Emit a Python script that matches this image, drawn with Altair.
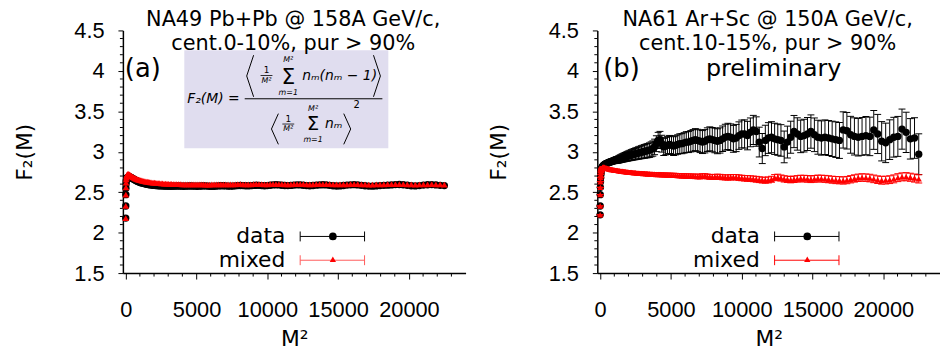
import altair as alt
import pandas as pd

# ---------------- data ----------------
M2 = [1, 4, 9, 16, 25, 36, 49, 64, 81, 100,
      121, 144, 169, 196, 225, 256, 289, 324, 361, 400,
      441, 484, 529, 576, 625, 676, 729, 784, 841, 900,
      961, 1024, 1089, 1156, 1225, 1296, 1369, 1444, 1521, 1600,
      1681, 1764, 1849, 1936, 2025, 2116, 2209, 2304, 2401, 2500,
      2601, 2704, 2809, 2916, 3025, 3136, 3249, 3364, 3481, 3600,
      3721, 3844, 3969, 4096, 4225, 4356, 4489, 4624, 4761, 4900,
      5041, 5184, 5329, 5476, 5625, 5776, 5929, 6084, 6241, 6400,
      6561, 6724, 6889, 7056, 7225, 7396, 7569, 7744, 7921, 8100,
      8281, 8464, 8649, 8836, 9025, 9216, 9409, 9604, 9801, 10000,
      10201, 10404, 10609, 10816, 11025, 11236, 11449, 11664, 11881, 12100,
      12321, 12544, 12769, 12996, 13225, 13456, 13689, 13924, 14161, 14400,
      14641, 14884, 15129, 15376, 15625, 15876, 16129, 16384, 16641, 16900,
      17161, 17424, 17689, 17956, 18225, 18496, 18769, 19044, 19321, 19600,
      19881, 20164, 20449, 20736, 21025, 21316, 21609, 21904, 22201, 22500]

A_DATA = [2.18, 2.33, 2.47, 2.55, 2.60, 2.63, 2.65, 2.66, 2.67, 2.675,
          2.68, 2.685, 2.69, 2.69, 2.69, 2.69, 2.69, 2.685, 2.68, 2.68,
          2.675, 2.67, 2.665, 2.66, 2.655, 2.65, 2.645, 2.64, 2.635, 2.63,
          2.625, 2.62, 2.618, 2.615, 2.61, 2.607, 2.604, 2.60, 2.598, 2.595,
          2.593, 2.59, 2.588, 2.586, 2.585, 2.583, 2.582, 2.58, 2.58, 2.579,
          2.578, 2.577, 2.576, 2.576, 2.575, 2.575, 2.575, 2.575, 2.576, 2.576,
          2.577, 2.576, 2.575, 2.574, 2.575, 2.576, 2.577, 2.577, 2.576, 2.575,
          2.574, 2.575, 2.577, 2.578, 2.578, 2.576, 2.574, 2.573, 2.574, 2.576,
          2.578, 2.58, 2.58, 2.578, 2.576, 2.575, 2.576, 2.579, 2.582, 2.583,
          2.582, 2.58, 2.579, 2.581, 2.584, 2.586, 2.585, 2.582, 2.58, 2.582,
          2.586, 2.59, 2.592, 2.59, 2.586, 2.583, 2.582, 2.584, 2.588, 2.591,
          2.59, 2.586, 2.582, 2.58, 2.583, 2.587, 2.59, 2.592, 2.59, 2.585,
          2.58, 2.577, 2.578, 2.583, 2.588, 2.591, 2.593, 2.59, 2.585, 2.58,
          2.576, 2.575, 2.578, 2.582, 2.585, 2.587, 2.59, 2.594, 2.595, 2.592,
          2.586, 2.58, 2.578, 2.582, 2.588, 2.592, 2.594, 2.59, 2.585, 2.582]

A_MIXED = [2.18, 2.33, 2.47, 2.56, 2.62, 2.66, 2.68, 2.70, 2.71, 2.715,
           2.72, 2.725, 2.725, 2.725, 2.72, 2.72, 2.715, 2.71, 2.705, 2.70,
           2.695, 2.69, 2.685, 2.68, 2.676, 2.672, 2.668, 2.664, 2.66, 2.656,
           2.652, 2.649, 2.646, 2.643, 2.64, 2.637, 2.634, 2.632, 2.63, 2.627,
           2.625, 2.623, 2.621, 2.619, 2.617, 2.615, 2.614, 2.612, 2.611, 2.61,
           2.608, 2.607, 2.606, 2.605, 2.604, 2.603, 2.602, 2.601, 2.60, 2.60,
           2.599, 2.599, 2.598, 2.598, 2.598, 2.597, 2.597, 2.597, 2.597, 2.596,
           2.596, 2.596, 2.596, 2.596, 2.595, 2.595, 2.595, 2.596, 2.596, 2.597,
           2.597, 2.598, 2.598, 2.597, 2.596, 2.596, 2.597, 2.598, 2.599, 2.599,
           2.598, 2.597, 2.597, 2.598, 2.599, 2.600, 2.600, 2.599, 2.598, 2.598,
           2.599, 2.600, 2.601, 2.600, 2.599, 2.598, 2.597, 2.598, 2.599, 2.600,
           2.600, 2.599, 2.598, 2.597, 2.598, 2.599, 2.600, 2.601, 2.600, 2.599,
           2.597, 2.596, 2.596, 2.597, 2.598, 2.599, 2.600, 2.599, 2.598, 2.596,
           2.595, 2.595, 2.596, 2.597, 2.598, 2.599, 2.600, 2.601, 2.601, 2.600,
           2.598, 2.596, 2.595, 2.596, 2.597, 2.598, 2.599, 2.598, 2.596, 2.594]

B_DATA = [2.22, 2.33, 2.47, 2.56, 2.63, 2.68, 2.72, 2.75, 2.77, 2.79,
          2.80, 2.81, 2.82, 2.82, 2.83, 2.83, 2.84, 2.84, 2.85, 2.85,
          2.855, 2.86, 2.86, 2.865, 2.87, 2.87, 2.875, 2.88, 2.88, 2.885,
          2.89, 2.89, 2.895, 2.90, 2.90, 2.905, 2.91, 2.915, 2.92, 2.925,
          2.93, 2.935, 2.94, 2.945, 2.95, 2.955, 2.96, 2.965, 2.97, 2.975,
          2.98, 2.985, 2.99, 2.995, 3.00, 3.005, 3.01, 3.015, 3.02, 3.03,
          3.04, 3.06, 3.10, 3.14, 3.15, 3.10, 3.06, 3.07, 3.08, 3.09,
          3.08, 3.07, 3.08, 3.09, 3.10, 3.10, 3.11, 3.12, 3.12, 3.13,
          3.14, 3.15, 3.14, 3.13, 3.12, 3.13, 3.15, 3.16, 3.15, 3.14,
          3.13, 3.14, 3.16, 3.18, 3.19, 3.18, 3.16, 3.17, 3.20, 3.22,
          3.22, 3.20, 3.24, 3.27, 3.25, 3.12, 3.04, 3.14, 3.17, 3.18,
          3.16, 3.15, 3.14, 3.06, 3.12, 3.18, 3.25, 3.22, 3.19, 3.20,
          3.22, 3.25, 3.21, 3.18, 3.17, 3.18, 3.17, 3.16, 3.15, 3.14,
          3.27, 3.26, 3.21, 3.19, 3.18, 3.19, 3.20, 3.19, 3.27, 3.22,
          3.13, 3.11, 3.15, 3.18, 3.19, 3.28, 3.24, 3.16, 3.17, 2.97]

B_DATA_ERR = [0.002, 0.003, 0.004, 0.005, 0.006, 0.007, 0.008, 0.009, 0.010, 0.011,
              0.012, 0.013, 0.014, 0.015, 0.016, 0.017, 0.018, 0.019, 0.020, 0.021,
              0.022, 0.023, 0.024, 0.025, 0.026, 0.027, 0.028, 0.029, 0.030, 0.032,
              0.034, 0.036, 0.038, 0.040, 0.042, 0.044, 0.046, 0.048, 0.050, 0.052,
              0.054, 0.056, 0.058, 0.060, 0.062, 0.064, 0.066, 0.068, 0.070, 0.072,
              0.074, 0.076, 0.078, 0.080, 0.082, 0.084, 0.086, 0.088, 0.090, 0.092,
              0.094, 0.096, 0.098, 0.100, 0.102, 0.104, 0.106, 0.108, 0.110, 0.112,
              0.114, 0.116, 0.118, 0.120, 0.122, 0.124, 0.126, 0.128, 0.130, 0.132,
              0.134, 0.136, 0.138, 0.140, 0.142, 0.144, 0.146, 0.148, 0.150, 0.152,
              0.154, 0.156, 0.158, 0.160, 0.162, 0.164, 0.166, 0.168, 0.170, 0.172,
              0.174, 0.176, 0.178, 0.180, 0.182, 0.184, 0.186, 0.188, 0.190, 0.192,
              0.193, 0.194, 0.195, 0.196, 0.197, 0.198, 0.199, 0.200, 0.201, 0.202,
              0.204, 0.206, 0.208, 0.210, 0.212, 0.214, 0.216, 0.218, 0.220, 0.222,
              0.224, 0.226, 0.228, 0.230, 0.232, 0.234, 0.236, 0.238, 0.240, 0.242,
              0.243, 0.244, 0.245, 0.246, 0.247, 0.248, 0.249, 0.250, 0.251, 0.252]

B_MIXED = [2.22, 2.33, 2.47, 2.56, 2.63, 2.68, 2.72, 2.75, 2.77, 2.78,
           2.79, 2.80, 2.805, 2.81, 2.81, 2.81, 2.81, 2.805, 2.80, 2.80,
           2.80, 2.795, 2.795, 2.79, 2.79, 2.785, 2.785, 2.78, 2.78, 2.78,
           2.775, 2.775, 2.77, 2.77, 2.77, 2.765, 2.765, 2.76, 2.76, 2.76,
           2.755, 2.755, 2.75, 2.75, 2.748, 2.745, 2.745, 2.742, 2.74, 2.74,
           2.738, 2.735, 2.735, 2.733, 2.73, 2.73, 2.728, 2.726, 2.725, 2.724,
           2.723, 2.722, 2.72, 2.72, 2.718, 2.716, 2.715, 2.714, 2.713, 2.712,
           2.71, 2.71, 2.708, 2.706, 2.705, 2.703, 2.702, 2.70, 2.70, 2.698,
           2.697, 2.696, 2.695, 2.694, 2.70, 2.70, 2.695, 2.69, 2.688, 2.69,
           2.692, 2.69, 2.685, 2.683, 2.682, 2.684, 2.686, 2.685, 2.68, 2.676,
           2.672, 2.67, 2.668, 2.665, 2.66, 2.655, 2.65, 2.648, 2.652, 2.66,
           2.68, 2.685, 2.675, 2.665, 2.66, 2.655, 2.66, 2.665, 2.67, 2.668,
           2.665, 2.66, 2.665, 2.67, 2.668, 2.665, 2.66, 2.655, 2.65, 2.648,
           2.645, 2.65, 2.66, 2.67, 2.678, 2.682, 2.68, 2.675, 2.665, 2.655,
           2.648, 2.65, 2.655, 2.665, 2.68, 2.69, 2.692, 2.685, 2.675, 2.665]

B_MIXED_ERR = [0.001, 0.001, 0.002, 0.002, 0.002, 0.003, 0.003, 0.003, 0.004, 0.004,
               0.004, 0.005, 0.005, 0.005, 0.006, 0.006, 0.006, 0.007, 0.007, 0.007,
               0.008, 0.008, 0.008, 0.009, 0.009, 0.009, 0.010, 0.010, 0.010, 0.011,
               0.011, 0.011, 0.012, 0.012, 0.012, 0.013, 0.013, 0.013, 0.014, 0.014,
               0.014, 0.015, 0.015, 0.015, 0.016, 0.016, 0.016, 0.017, 0.017, 0.017,
               0.018, 0.018, 0.018, 0.019, 0.019, 0.019, 0.020, 0.020, 0.020, 0.021,
               0.021, 0.021, 0.022, 0.022, 0.022, 0.023, 0.023, 0.023, 0.024, 0.024,
               0.024, 0.025, 0.025, 0.025, 0.026, 0.026, 0.026, 0.027, 0.027, 0.027,
               0.028, 0.028, 0.028, 0.029, 0.029, 0.029, 0.030, 0.030, 0.030, 0.031,
               0.031, 0.031, 0.032, 0.032, 0.032, 0.033, 0.033, 0.033, 0.034, 0.034,
               0.034, 0.035, 0.035, 0.035, 0.036, 0.036, 0.036, 0.037, 0.037, 0.037,
               0.038, 0.038, 0.038, 0.039, 0.039, 0.039, 0.040, 0.040, 0.040, 0.041,
               0.041, 0.041, 0.042, 0.042, 0.042, 0.043, 0.043, 0.043, 0.044, 0.044,
               0.044, 0.045, 0.045, 0.045, 0.046, 0.046, 0.046, 0.047, 0.047, 0.047,
               0.048, 0.048, 0.048, 0.049, 0.049, 0.049, 0.050, 0.050, 0.050, 0.051]

X_MAJOR = [0, 5000, 10000, 15000, 20000]
X_MINOR = [1000, 2000, 3000, 4000, 6000, 7000, 8000, 9000, 11000, 12000, 13000,
           14000, 16000, 17000, 18000, 19000, 21000, 22000, 23000]
Y_MAJOR = [1.5, 2, 2.5, 3, 3.5, 4, 4.5]
Y_MINOR = [1.6, 1.7, 1.8, 1.9, 2.1, 2.2, 2.3, 2.4, 2.6, 2.7, 2.8, 2.9,
           3.1, 3.2, 3.3, 3.4, 3.6, 3.7, 3.8, 3.9, 4.1, 4.2, 4.3, 4.4]

TITLE_A = ["NA49 Pb+Pb @ 158A GeV/c,", "cent.0-10%, pur > 90%"]
TITLE_B = ["NA61 Ar+Sc @ 150A GeV/c,", "cent.10-15%, pur > 90%"]

# ---------------- style ----------------
W, H = 346, 245
FONT = "DejaVu Sans"
TICKFONT = "Liberation Sans"
RED = "#ff0000"
XS = alt.Scale(domain=[-200, 24000], nice=False, zero=False)
YS = alt.Scale(domain=[1.5, 4.5], nice=False, zero=False)
ONE = pd.DataFrame({"k": [0]})

XAXIS = alt.Axis(values=X_MAJOR, format="d", title="M²", grid=False,
                 labelFont=TICKFONT, labelFontSize=22, labelColor="black",
                 tickSize=6, tickColor="black", tickWidth=1,
                 domainColor="black", domainWidth=1.5, labelPadding=21,
                 titleFont=FONT, titleFontSize=22, titleFontWeight="normal",
                 titleColor="black", titlePadding=8, labelFlush=False)
YAXIS = alt.Axis(values=Y_MAJOR, format="~g", title="F₂(M)", grid=False,
                 labelFont=TICKFONT, labelFontSize=22, labelColor="black",
                 tickSize=5, tickColor="black", tickWidth=1,
                 domainColor="black", domainWidth=1.5, labelPadding=14,
                 titleFont=FONT, titleFontSize=22, titleFontWeight="normal",
                 titleColor="black", titlePadding=38)


def X(field):
    return alt.X(field + ":Q", scale=XS, axis=XAXIS)


def Y(field):
    return alt.Y(field + ":Q", scale=YS, axis=YAXIS)


def txt(x, y, s, size, align="center", style="normal", color="black", font=FONT):
    return alt.Chart(ONE).mark_text(
        font=font, fontSize=size, align=align, baseline="middle",
        fontStyle=style, color=color
    ).encode(x=alt.value(x), y=alt.value(y), text=alt.value(s))


def seg(x1, y1, x2, y2, color="black", w=1.0):
    return alt.Chart(ONE).mark_rule(color=color, strokeWidth=w).encode(
        x=alt.value(x1), y=alt.value(y1), x2=alt.value(x2), y2=alt.value(y2))


def axes_layers():
    xminor = alt.Chart(pd.DataFrame({"M2": X_MINOR})).mark_rule(color="black", strokeWidth=1).encode(
        x=X("M2"), y=alt.value(H), y2=alt.value(H + 3.5))
    yminor = alt.Chart(pd.DataFrame({"F": Y_MINOR})).mark_rule(color="black", strokeWidth=1).encode(
        y=Y("F"), x=alt.value(-3), x2=alt.value(0))
    return [xminor, yminor]


def legend_layers(light_red):
    return [
        txt(164, 208, "data", 22, align="right"),
        txt(164, 232, "mixed", 22, align="right"),
        seg(179, 208, 244, 208),
        seg(179, 203, 179, 213),
        seg(244, 203, 244, 213),
        alt.Chart(ONE).mark_point(shape="circle", filled=True, size=60, color="black", opacity=1).encode(
            x=alt.value(212), y=alt.value(208)),
        seg(179, 232, 244, 232, color=light_red),
        seg(179, 227, 179, 237, color=light_red),
        seg(244, 227, 244, 237, color=light_red),
        alt.Chart(ONE).mark_point(shape="triangle-up", filled=True, size=40, color=RED, opacity=1).encode(
            x=alt.value(212), y=alt.value(231)),
    ]


def points(df, col, shape, size, color):
    return alt.Chart(df).mark_point(shape=shape, filled=True, size=size, color=color, opacity=1).encode(
        x=X("M2"), y=Y(col))


def errbars(df, col, err, color):
    d = df.copy()
    d["lo"] = d[col] - d[err]
    d["hi"] = d[col] + d[err]
    base = alt.Chart(d)
    bar = base.mark_rule(color=color, strokeWidth=1).encode(x=X("M2"), y=Y("lo"), y2="hi:Q")
    cap_lo = base.mark_tick(orient="horizontal", size=7, thickness=1, color=color, opacity=1).encode(
        x=X("M2"), y=Y("lo"))
    cap_hi = base.mark_tick(orient="horizontal", size=7, thickness=1, color=color, opacity=1).encode(
        x=X("M2"), y=Y("hi"))
    return [bar, cap_lo, cap_hi]


# ---------------- panel (a) ----------------
dfa = pd.DataFrame({"M2": M2, "data": A_DATA, "mixed": A_MIXED})

formula = [
    alt.Chart(ONE).mark_rect(color="#e0ddef").encode(
        x=alt.value(62), x2=alt.value(268), y=alt.value(20), y2=alt.value(119)),
    txt(65, 69, "F₂(M) =", 14, align="left", style="italic"),
    # numerator
    seg(132, 25, 125, 46), seg(125, 46, 132, 67),
    txt(145, 40, "1", 9), seg(139, 45.5, 151, 45.5, w=0.8), txt(145, 51, "M²", 8, style="italic"),
    txt(167, 47, "Σ", 22),
    txt(167, 30, "M²", 8, style="italic"), txt(167, 63, "m=1", 8, style="italic"),
    txt(181, 46, "nₘ(nₘ − 1)", 14, align="left", style="italic"),
    seg(253, 25, 260, 46), seg(260, 46, 253, 67),
    # fraction bar
    seg(123, 69, 262, 69, w=1),
    # denominator
    seg(157, 84, 150, 99.5), seg(150, 99.5, 157, 115),
    txt(167, 89, "1", 9), seg(161, 94.5, 173, 94.5, w=0.8), txt(167, 100, "M²", 8, style="italic"),
    txt(192, 95, "Σ", 20),
    txt(192, 79, "M²", 8, style="italic"), txt(192, 111, "m=1", 8, style="italic"),
    txt(204, 95, "nₘ", 14, align="left", style="italic"),
    seg(223, 84, 230, 99.5), seg(230, 99.5, 223, 115),
    txt(236, 75, "2", 10),
]

panel_a = alt.layer(
    *axes_layers(),
    points(dfa, "data", "circle", 55, "black"),
    points(dfa, "mixed", "triangle-up", 45, RED),
    *formula,
    txt(172, -10, TITLE_A[0], 21),
    txt(172, 14, TITLE_A[1], 21),
    txt(2, 39, "(a)", 26, align="left"),
    *legend_layers("#ff5a5a"),
).properties(width=W, height=H)

# ---------------- panel (b) ----------------
dfb = pd.DataFrame({"M2": M2, "data": B_DATA, "derr": B_DATA_ERR,
                    "mixed": B_MIXED, "merr": B_MIXED_ERR})

panel_b = alt.layer(
    *axes_layers(),
    *errbars(dfb, "data", "derr", "black"),
    points(dfb, "data", "circle", 55, "black"),
    *errbars(dfb, "mixed", "merr", RED),
    points(dfb, "mixed", "triangle-up", 40, RED),
    txt(172, -10, TITLE_B[0], 21),
    txt(172, 14, TITLE_B[1], 21),
    txt(178, 39, "preliminary", 24),
    txt(6, 39, "(b)", 26, align="left"),
    *legend_layers(RED),
).properties(width=W, height=H)

chart = alt.hconcat(panel_a, panel_b, spacing=22).properties(
    padding={"left": 5, "top": 0, "right": 0, "bottom": 0}
).configure_view(stroke=None)

chart.save("out.html", embed_options={"renderer": "svg", "actions": False})
